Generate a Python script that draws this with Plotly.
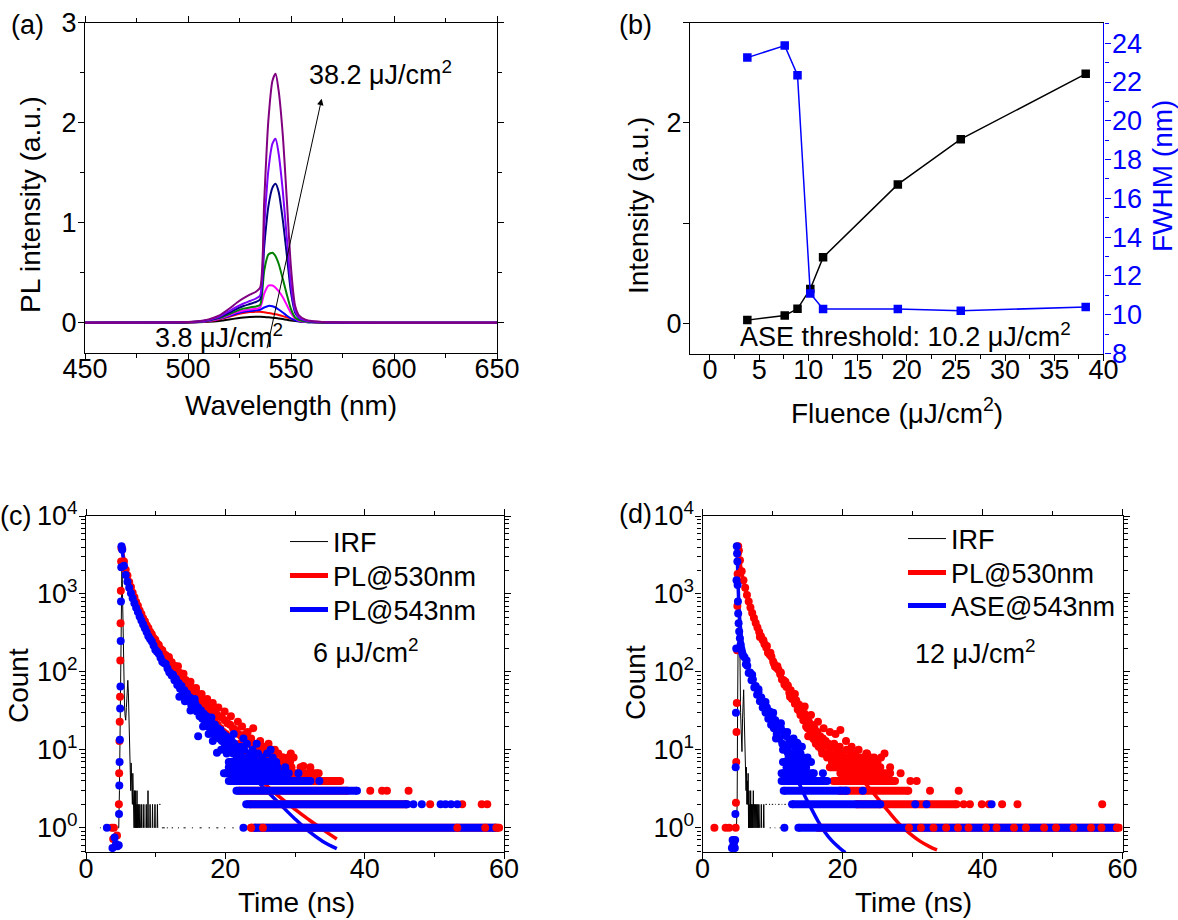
import plotly.graph_objects as go

W, H = 1178, 920
FONT = "Liberation Sans, Arimo, Arial, sans-serif"
TICK = 27
TITLE = 28

# ---------------- (a) PL spectra ----------------
wavelength_nm = [450, 490, 500, 505, 510, 515, 520, 524, 527, 530, 533, 535, 537, 539, 541, 542.5,
                 544, 546, 548, 550, 552, 554, 557, 560, 565, 570, 580, 600, 650]
spectrum_colors = ["#000000", "#FF0000", "#0000FF", "#FF00FF", "#008000", "#000080", "#8000FF", "#800080"]
pl_3_8 = [0, 0.001, 0.002, 0.004, 0.009, 0.018, 0.032, 0.045, 0.053, 0.058, 0.06, 0.059, 0.057, 0.054, 0.05, 0.046,
          0.042, 0.036, 0.029, 0.022, 0.016, 0.011, 0.007, 0.004, 0.002, 0.001, 0, 0, 0]
pl_7_6 = [0, 0.001, 0.003, 0.007, 0.015, 0.032, 0.058, 0.084, 0.098, 0.106, 0.11, 0.109, 0.104, 0.097, 0.09, 0.084,
          0.077, 0.066, 0.053, 0.039, 0.027, 0.018, 0.01, 0.006, 0.003, 0.001, 0, 0, 0]
pl_8_9 = [0, 0.001, 0.004, 0.008, 0.017, 0.036, 0.066, 0.095, 0.11, 0.118, 0.124, 0.13, 0.152, 0.168, 0.164, 0.152,
          0.132, 0.102, 0.07, 0.042, 0.024, 0.014, 0.008, 0.005, 0.003, 0.001, 0, 0, 0]
pl_10_2 = [0, 0.001, 0.004, 0.009, 0.019, 0.04, 0.075, 0.106, 0.122, 0.131, 0.139, 0.152, 0.29, 0.37, 0.372, 0.35,
           0.315, 0.255, 0.175, 0.095, 0.042, 0.02, 0.01, 0.006, 0.003, 0.001, 0, 0, 0]
pl_11_5 = [0, 0.001, 0.005, 0.01, 0.022, 0.046, 0.086, 0.121, 0.141, 0.153, 0.162, 0.178, 0.52, 0.68, 0.70, 0.665,
           0.59, 0.44, 0.28, 0.135, 0.052, 0.025, 0.012, 0.007, 0.003, 0.001, 0, 0, 0]
pl_19_1 = [0, 0.001, 0.005, 0.011, 0.025, 0.052, 0.1, 0.142, 0.167, 0.187, 0.207, 0.232, 0.76, 1.16, 1.35, 1.39,
           1.31, 1.03, 0.67, 0.3, 0.1, 0.045, 0.02, 0.01, 0.005, 0.002, 0, 0, 0]
pl_25_5 = [0, 0.001, 0.006, 0.012, 0.028, 0.058, 0.116, 0.162, 0.192, 0.217, 0.242, 0.272, 0.96, 1.52, 1.79, 1.84,
           1.69, 1.32, 0.84, 0.37, 0.12, 0.05, 0.022, 0.012, 0.006, 0.003, 0, 0, 0]
pl_38_2 = [0, 0.001, 0.007, 0.014, 0.033, 0.07, 0.14, 0.205, 0.245, 0.28, 0.31, 0.35, 1.22, 2.02, 2.42, 2.49,
           2.32, 1.88, 1.22, 0.55, 0.17, 0.07, 0.03, 0.016, 0.008, 0.004, 0.001, 0, 0]
spectra = [pl_3_8, pl_7_6, pl_8_9, pl_10_2, pl_11_5, pl_19_1, pl_25_5, pl_38_2]

# ---------------- (b) intensity & FWHM ----------------
fluence = [3.8, 7.6, 8.9, 10.2, 11.5, 19.1, 25.5, 38.2]
peak_intensity = [0.033, 0.079, 0.146, 0.344, 0.659, 1.387, 1.838, 2.49]
fwhm_nm = [23.26, 23.88, 22.35, 11.09, 10.30, 10.30, 10.20, 10.40]

# ---------------- (c) decays at 6 uJ/cm2 ----------------
c_irf = [(2.0, 1), (2.12, 1), (None, None), (2.6, 1), (2.7, 1), (None, None), (3.3, 1), (3.45, 1), (None, None),
         (4.0, 1), (4.1, 1), (None, None),
         (4.55, 1), (4.7, 1), (4.8, 3), (4.9, 20), (5.0, 300), (5.08, 2000), (5.16, 2600), (5.24, 1000), (5.32, 250),
         (5.42, 75), (5.52, 40), (5.6, 28), (5.7, 24), (5.8, 35), (5.9, 62), (6.0, 78), (6.08, 55), (6.16, 22),
         (6.24, 9), (6.3, 5), (6.36, 7), (6.42, 3), (6.48, 6.8), (6.54, 4), (6.6, 6), (6.66, 2), (6.72, 5), (6.78, 2),
         (6.84, 4), (6.9, 1), (6.96, 3), (7.02, 1), (7.08, 3), (7.14, 1), (7.2, 2), (7.26, 1), (7.32, 3), (7.38, 1),
         (7.44, 2), (7.5, 1), (7.58, 2), (7.66, 1), (7.74, 2), (7.82, 1), (None, None),
         (7.95, 1), (8.0, 2), (8.05, 1), (None, None), (8.25, 1), (8.3, 2), (8.35, 1), (None, None),
         (8.6, 1), (8.65, 2), (8.7, 1), (None, None), (8.85, 1), (8.9, 3), (8.95, 1), (None, None),
         (9.15, 1), (9.2, 2), (9.25, 1), (None, None), (9.5, 1), (9.55, 2), (9.6, 1), (None, None),
         (9.85, 1), (9.9, 2), (9.95, 1), (None, None), (10.2, 1), (10.25, 2), (10.3, 1), (None, None),
         (10.5, 2), (10.7, 2), (None, None), (10.9, 1), (11.3, 1), (None, None), (11.6, 1), (11.75, 1), (None, None),
         (12.3, 1), (12.5, 1), (None, None), (13.2, 1), (13.35, 1), (None, None), (14.0, 1), (14.3, 1), (None, None),
         (15.2, 1), (15.35, 1), (None, None), (16.3, 1), (16.6, 1), (None, None), (17.6, 1), (17.8, 1), (None, None),
         (18.7, 1), (19.0, 1), (None, None), (19.8, 1), (20.0, 1), (None, None), (21.0, 1), (21.2, 1), (None, None),
         (22.1, 1), (22.4, 1)]

c_pl530 = [(3.7, 1), (4.0, 1), (3.9, 0.72), (4.45, 0.8),
           (4.72, 2), (4.76, 5), (4.8, 13), (4.84, 23), (4.88, 48), (4.92, 140), (4.96, 420), (5.0, 1100),
           (5.04, 2600), (5.08, 3900),
           (5.2, 3800), (5.45, 2600), (5.7, 2050), (5.95, 1720), (6.2, 1420), (6.45, 1230), (6.7, 1040), (6.95, 910),
           (7.2, 790), (7.45, 705), (7.7, 615), (7.95, 555), (8.2, 488), (8.45, 445), (8.7, 398), (8.95, 366),
           (9.2, 327), (9.45, 304), (9.7, 272), (9.95, 258), (10.2, 232), (10.45, 221), (10.7, 197), (10.95, 190),
           (11.2, 169), (11.45, 163), (11.7, 146), (11.95, 142),
           (12.1, 129), (12.3, 133), (12.5, 111), (12.7, 120), (12.9, 101), (13.1, 104), (13.3, 88), (13.5, 97),
           (13.7, 80), (13.9, 86), (14.1, 71), (14.3, 79), (14.5, 63), (14.7, 70), (14.9, 60), (15.1, 63),
           (15.3, 52), (15.5, 57), (15.7, 47), (15.9, 54), (16.1, 43), (16.3, 48), (16.5, 37), (16.7, 44),
           (16.9, 35), (17.1, 40), (17.3, 31), (17.5, 37), (17.7, 28), (17.9, 34), (18.1, 25), (18.3, 32),
           (18.5, 23), (18.7, 29), (18.9, 21), (19.1, 27), (19.3, 19), (19.5, 26), (19.7, 17), (19.9, 24),
           (20.1, 16), (20.3, 22), (20.5, 14), (20.7, 21), (20.9, 13), (21.1, 19), (21.3, 12), (21.5, 18),
           (21.7, 11), (21.9, 16),
           (11.9, 155), (13.2, 118), (14.0, 95), (15.0, 75), (15.8, 62), (16.6, 52), (17.4, 45), (18.2, 40),
           (19.0, 35), (19.9, 31), (20.8, 27), (21.8, 23), (22.4, 20), (24.0, 19), (23.2, 17), (25.2, 11),
           (26.5, 9.6), (27.1, 10), (29.4, 9), (31.2, 6.2), (28.3, 8),
           (22.1, 12), (22.3, 15), (22.5, 10), (22.7, 13), (22.9, 16), (23.1, 9), (23.3, 12), (23.5, 8), (23.7, 14),
           (23.9, 11), (24.1, 9), (24.3, 12), (24.6, 8), (24.8, 10), (25.0, 13), (25.3, 7), (25.5, 11), (25.8, 9),
           (26.0, 8), (26.2, 12), (26.5, 7), (26.7, 10), (27.0, 8), (27.3, 7), (27.6, 9), (27.9, 7), (28.2, 8),
           (28.6, 7), (29.0, 8), (29.3, 7), (29.8, 8)]
# quantised count levels: (count, [(start, end) runs], [isolated times])
c_pl530_levels = [(7, [(22.0, 27.5)], [29.1]),
                  (6, [(21.5, 29.5)], [30.8, 32.2]),
                  (5, [(20.5, 33.4)], []),
                  (4, [(21.0, 36.5)], []),
                  (3, [(22.0, 37.5)], [40.8, 42.5, 43.2, 46.3]),
                  (2, [(23.5, 46.0)], [49.4, 54.0, 56.8, 57.6]),
                  (1, [(23.7, 59.3)], [])]
c_pl530_level1_front = [23.7, 25.4, 53.3, 57.3, 58.9]

c_pl543 = [(3.0, 1), (3.8, 0.55), (4.1, 0.75), (4.3, 0.62), (4.5, 0.58),
           (4.7, 0.6), (4.74, 1.5), (4.78, 3.5), (4.82, 7), (4.86, 13.5), (4.9, 34), (4.94, 65), (4.98, 250),
           (5.02, 800), (5.06, 2200), (5.1, 4100),
           (5.2, 3700), (5.45, 2300), (5.7, 1750), (5.95, 1430), (6.2, 1200), (6.45, 1020), (6.7, 880), (6.95, 760),
           (7.2, 665), (7.45, 585), (7.7, 515), (7.95, 455), (8.2, 405), (8.45, 362), (8.7, 325), (8.95, 286),
           (9.2, 265), (9.45, 246), (9.7, 218), (9.95, 192), (10.2, 181), (10.45, 171), (10.7, 152), (10.95, 135),
           (11.2, 130), (11.45, 126), (11.7, 111), (11.95, 99),
           (12.1, 97), (12.3, 90), (12.5, 92), (12.7, 78), (12.9, 82), (13.1, 68), (13.3, 72), (13.5, 61),
           (13.7, 66), (13.9, 54), (14.1, 58), (14.3, 48), (14.5, 53), (14.7, 43), (14.9, 47), (15.1, 38),
           (15.3, 43), (15.5, 34), (15.7, 39), (15.9, 31), (16.1, 35), (16.3, 27), (16.5, 32), (16.7, 25),
           (16.9, 29), (17.1, 22), (17.3, 27), (17.5, 20), (17.7, 24), (17.9, 18), (18.1, 22), (18.3, 16),
           (18.5, 21), (18.7, 15), (18.9, 19), (19.1, 14), (19.3, 18), (19.5, 13), (19.7, 16), (19.9, 12),
           (20.1, 15), (20.3, 11), (20.5, 14), (20.7, 10), (20.9, 13), (21.1, 9), (21.3, 12), (21.5, 9),
           (21.7, 11), (21.9, 8),
           (13.4, 48), (14.2, 42), (15.0, 32), (16.1, 15), (16.8, 20), (17.6, 16), (18.2, 13), (18.8, 9.2),
           (19.4, 10), (20.2, 9), (21.2, 16), (22.6, 14), (26.5, 10), (24.5, 12), (15.6, 45), (18.0, 26),
           (22.1, 9), (22.3, 11), (22.5, 8), (22.7, 10), (22.9, 7), (23.1, 12), (23.3, 8), (23.5, 9), (23.7, 7),
           (23.9, 10), (24.1, 8), (24.4, 7), (24.7, 9), (25.0, 7), (25.3, 8), (25.6, 7), (26.0, 9), (26.4, 7),
           (26.8, 8), (27.3, 7)]
c_pl543_levels = [(7, [(20.5, 26.5)], []),
                  (6, [(20.5, 27.5)], [28.6]),
                  (5, [(19.8, 29.1)], [30.5]),
                  (4, [(20.5, 32.2)], [33.5]),
                  (3, [(21.6, 38.9)], []),
                  (2, [(23.0, 46.1)], [47.0, 48.2, 50.9, 51.6, 52.4, 53.3]),
                  (1, [(24.2, 58.8)], [22.6])]

c_fit530 = [(5.1, 4000), (6, 1700), (7, 880), (8, 520), (9, 340), (10, 240), (12, 120), (14, 65), (16, 37),
            (18, 22), (20, 13.5), (22, 8.3), (24, 5.2), (26, 3.45), (28, 2.4), (30, 1.72), (32, 1.27),
            (34, 0.95), (36, 0.72)]
c_fit543 = [(5.1, 4000), (6, 1450), (7, 730), (8, 430), (9, 280), (10, 195), (12, 98), (14, 52), (16, 30),
            (18, 18), (20, 11), (22, 7.0), (24, 4.5), (26, 2.95), (28, 1.95), (30, 1.3), (32, 0.9),
            (34, 0.67), (36, 0.54)]

# ---------------- (d) decays at 12 uJ/cm2 ----------------
d_irf = [(4.85, 1), (4.95, 2), (5.02, 40), (5.1, 800), (5.18, 2500), (5.26, 900), (5.34, 120), (5.44, 30),
         (5.54, 16.5), (5.64, 9.5), (5.72, 25), (5.8, 55), (5.88, 59), (5.96, 27), (6.04, 10), (6.1, 5), (6.16, 7),
         (6.22, 3), (6.28, 6), (6.34, 2), (6.4, 4), (6.46, 2), (6.52, 5), (6.58, 1), (6.64, 3), (6.7, 1),
         (6.76, 2), (6.82, 1), (6.88, 3), (6.94, 1), (7.0, 2), (7.06, 1), (7.12, 2), (7.18, 1), (7.26, 3),
         (7.34, 1), (7.42, 2), (7.5, 1), (7.58, 2), (7.66, 1), (7.74, 2), (7.82, 1), (7.9, 2), (7.98, 1),
         (8.06, 2), (8.14, 1), (None, None), (8.35, 1), (8.4, 2), (8.45, 1), (None, None),
         (8.7, 1), (8.75, 2), (8.8, 1), (None, None), (9.0, 2), (9.2, 2), (None, None), (9.5, 2), (9.65, 2),
         (None, None), (9.9, 2), (10.1, 2), (None, None), (10.4, 2), (10.5, 2), (None, None), (10.8, 2), (11.0, 2),
         (None, None), (11.3, 2), (11.4, 2), (None, None), (11.7, 2), (11.9, 2), (None, None), (12.2, 2), (12.4, 2),
         (None, None), (9.6, 1), (9.75, 1), (None, None), (10.3, 1), (10.4, 1), (None, None), (11.0, 1), (11.2, 1),
         (None, None), (11.5, 1), (11.7, 1)]

d_pl530 = [(1.7, 1), (3.3, 1), (3.8, 1),
           (4.74, 1.0), (4.78, 2.1), (4.82, 7), (4.86, 17), (4.9, 40), (4.94, 190), (4.98, 700), (5.02, 1800),
           (5.06, 3300), (5.1, 4100),
           (5.2, 3600), (5.35, 2700), (5.6, 1950), (5.85, 1500), (6.1, 1200), (6.35, 970), (6.6, 800), (6.85, 670),
           (7.1, 570), (7.35, 490), (7.6, 425), (7.85, 370), (8.1, 325), (8.35, 288), (8.6, 256), (8.85, 228),
           (9.1, 205), (9.35, 176), (9.6, 166), (9.85, 156), (10.1, 136), (10.35, 117), (10.6, 112), (10.85, 107),
           (11.1, 93), (11.35, 80), (11.6, 78), (11.85, 75),
           (8.2, 280), (8.7, 255), (9.2, 215), (9.7, 176), (10.2, 128), (10.7, 118), (11.2, 98), (11.7, 69),
           (12.0, 64), (12.2, 67), (12.4, 54), (12.6, 58), (12.8, 45), (13.0, 50), (13.2, 39), (13.4, 43),
           (13.6, 33), (13.8, 38), (14.0, 28), (14.2, 33), (14.4, 24), (14.6, 29), (14.8, 20), (14.9, 26),
           (15.0, 19), (15.2, 23), (15.4, 16), (15.6, 21), (15.8, 14), (16.0, 19), (16.2, 12), (16.4, 17),
           (16.6, 11), (16.8, 15), (17.0, 10), (17.2, 14), (17.4, 9), (17.6, 13), (17.8, 8), (18.0, 12),
           (18.2, 9), (18.4, 11), (18.6, 8), (18.8, 12), (19.0, 9), (19.2, 10), (19.4, 8), (19.6, 11), (19.8, 8),
           (20.0, 9), (20.3, 8), (20.6, 10), (20.9, 8), (21.2, 9), (21.5, 8), (21.8, 9), (22.1, 8), (22.5, 8),
           (23.0, 8), (23.5, 9), (24.0, 8), (24.5, 8),
           (13.2, 52), (14.6, 36), (15.5, 28), (16.5, 23), (17.3, 19), (18.2, 17), (19.0, 16), (19.7, 18),
           (20.5, 13), (21.3, 11), (22.3, 10), (23.4, 9), (25.5, 8), (26.0, 9), (12.5, 48), (13.9, 31),
           (15.1, 15), (16.1, 13), (17.1, 9)]
d_pl530_levels = [(7, [(18.5, 25.0)], []),
                  (6, [(18.2, 25.4)], [26.8]),
                  (5, [(19.7, 26.8)], [28.3]),
                  (4, [(18.7, 27.5)], [29.7, 30.6]),
                  (3, [(19.6, 29.4)], [32.5, 36.6]),
                  (2, [(22.0, 36.3)], [37.3, 38.2, 39.9, 40.9, 42.8, 45.0, 57.1]),
                  (1, [(16.5, 59.5)], [])]
d_pl530_level1_front = [29.5, 31.2, 33.0, 34.8, 36.5, 38.0, 40.5, 42.0, 44.5, 46.2, 48.8, 50.5, 53.0, 55.5,
                        57.0, 59.2]

d_ase543 = [(4.2, 0.55), (4.3, 0.7), (4.4, 0.6), (4.5, 0.65),
            (4.62, 0.55), (4.66, 0.7), (4.7, 1.5), (4.74, 6), (4.78, 30), (4.82, 200), (4.86, 1500), (4.9, 4100),
            (4.94, 3300), (4.98, 2600), (5.02, 1300), (5.06, 800), (5.1, 560), (5.16, 420), (5.24, 330),
            (5.34, 270), (5.45, 225), (5.56, 195), (5.68, 175), (5.8, 162),
            (6.0, 154), (6.2, 125), (6.4, 120), (6.6, 97), (6.8, 98), (7.0, 78), (7.2, 80), (7.4, 63), (7.6, 66),
            (7.8, 51), (8.0, 55), (8.2, 42), (8.4, 47), (8.6, 35), (8.8, 40), (9.0, 30), (9.2, 35), (9.4, 25),
            (9.6, 31), (9.8, 21), (10.0, 27), (10.2, 19), (10.4, 24), (10.6, 16), (10.8, 21), (11.0, 14),
            (11.2, 19), (11.4, 12), (11.6, 17), (11.8, 11), (12.0, 15), (12.2, 10), (12.4, 13), (12.6, 9),
            (12.8, 12), (13.0, 8), (13.2, 11), (13.4, 9), (13.6, 10), (13.8, 8), (14.0, 9), (14.3, 8), (14.6, 7),
            (15.0, 8), (15.5, 7),
            (6.3, 140), (7.1, 92), (8.0, 60), (9.0, 41), (9.3, 31), (10.1, 30), (11.2, 22), (12.1, 17), (13.0, 14),
            (13.6, 12), (14.2, 11), (11.1, 21), (11.8, 16.6), (13.5, 12.3), (14.9, 7.1), (10.5, 14), (11.5, 10),
            (12.3, 8), (12.7, 7)]
d_ase543_levels = [(7, [(11.5, 14.2)], []),
                   (6, [(12.0, 14.8)], []),
                   (5, [(11.3, 15.9)], [17.2]),
                   (4, [(11.3, 17.8)], []),
                   (3, [(11.6, 20.6)], [22.9]),
                   (2, [(12.8, 25.4)], [30.4, 32.0, 41.3]),
                   (1, [(13.7, 59.0)], [11.7])]

d_fit530 = [(5.1, 4000), (5.6, 1900), (6.5, 850), (7.5, 440), (8.5, 260), (10, 135), (11.5, 74), (13, 43),
            (14.5, 26), (16, 16.5), (17.5, 11), (19, 8.2), (20.5, 6.4), (22, 5.0), (23.5, 3.5), (25, 2.4),
            (26.5, 1.65), (28, 1.15), (29.5, 0.86), (31, 0.68), (32.5, 0.57), (33.5, 0.52)]
d_fit543 = [(4.95, 4000), (5.1, 1200), (5.3, 500), (5.7, 230), (6.5, 115), (7.5, 62), (8.5, 38), (9.5, 25),
            (10.5, 16), (11.5, 10.5), (12.5, 6.8), (13.5, 4.3), (14.5, 2.7), (15.5, 1.8), (16.5, 1.22),
            (17.5, 0.88), (18.5, 0.68), (19.5, 0.56), (20.4, 0.48)]

RED, BLUE = "#FF0000", "#0000FF"
DOT = 8


def unzip(pairs):
    return [p[0] for p in pairs], [p[1] for p in pairs]


def level_xy(levels):
    xs, ys = [], []
    for n, runs, dots in levels:
        for a, b in runs:
            xs += [a, b, None]
            ys += [n, n, None]
        for d in dots:
            xs += [d, None]
            ys += [n, None]
    return xs, ys


def px(xp):
    return xp / W


def py(yp):
    return 1 - yp / H


fig = go.Figure()

# (a)
for spec, col in zip(spectra, spectrum_colors):
    fig.add_trace(go.Scatter(x=wavelength_nm, y=spec, mode="lines",
                             line=dict(color=col, width=2, shape="spline", smoothing=0.7),
                             xaxis="x", yaxis="y", showlegend=False, hoverinfo="skip"))

# (b)
fig.add_trace(go.Scatter(x=fluence, y=peak_intensity, mode="lines+markers", line=dict(color="black", width=1.5),
                         marker=dict(symbol="square", size=8.5, color="black"), xaxis="x2", yaxis="y2",
                         showlegend=False))
fig.add_trace(go.Scatter(x=fluence, y=fwhm_nm, mode="lines+markers", line=dict(color=BLUE, width=1.5),
                         marker=dict(symbol="square", size=8.5, color=BLUE), xaxis="x2", yaxis="y3",
                         showlegend=False))


def decay_panel(xa, ya, irf, red_pts, red_levels, red_front, blue_pts, blue_levels, fit_r, fit_b, legends, names):
    t, n = unzip(irf)
    fig.add_trace(go.Scatter(x=t, y=n, mode="lines", line=dict(color="black", width=1), connectgaps=False,
                             xaxis=xa, yaxis=ya, showlegend=False))
    for fit, col in ((fit_r, RED), (fit_b, BLUE)):
        t, n = unzip(fit)
        fig.add_trace(go.Scatter(x=t, y=n, mode="lines", line=dict(color=col, width=3.5, shape="spline"),
                                 xaxis=xa, yaxis=ya, showlegend=False))
    for pts, levels, col in ((red_pts, red_levels, RED), (blue_pts, blue_levels, BLUE)):
        lx, ly = level_xy(levels)
        fig.add_trace(go.Scatter(x=lx, y=ly, mode="lines+markers", line=dict(color=col, width=DOT),
                                 marker=dict(size=DOT, color=col), connectgaps=False,
                                 xaxis=xa, yaxis=ya, showlegend=False))
        t, n = unzip(pts)
        fig.add_trace(go.Scatter(x=t, y=n, mode="markers", marker=dict(size=DOT, color=col),
                                 xaxis=xa, yaxis=ya, showlegend=False))
    fig.add_trace(go.Scatter(x=red_front, y=[1] * len(red_front), mode="markers", marker=dict(size=DOT, color=RED),
                             xaxis=xa, yaxis=ya, showlegend=False))
    # legend keys (one legend per entry, so rows can be spaced like the original)
    for name, col, w, lg in zip(names, ["black", RED, BLUE], [1, 5, 5], legends):
        fig.add_trace(go.Scatter(x=[None], y=[None], mode="lines", line=dict(color=col, width=w), name=name,
                                 xaxis=xa, yaxis=ya, legend=lg, showlegend=True))


decay_panel("x3", "y4", c_irf, c_pl530, c_pl530_levels, c_pl530_level1_front, c_pl543, c_pl543_levels,
            c_fit530, c_fit543, ["legend", "legend2", "legend3"], ["IRF", "PL@530nm", "PL@543nm"])
decay_panel("x4", "y5", d_irf, d_pl530, d_pl530_levels, d_pl530_level1_front, d_ase543, d_ase543_levels,
            d_fit530, d_fit543, ["legend4", "legend5", "legend6"], ["IRF", "PL@530nm", "ASE@543nm"])

base_font = dict(family=FONT, size=TICK, color="black")


def axis(domain, rng, color="black", mirror="ticks", standoff=0, **kw):
    d = dict(domain=domain, range=rng, showline=True, linecolor=color, linewidth=1.3, mirror=mirror,
             ticks="outside", ticklen=6, tickwidth=1.3, tickcolor=color, showgrid=False, zeroline=False,
             tickfont=dict(family=FONT, size=TICK, color=color), automargin=False,
             ticklabelstandoff=standoff)
    d.update(kw)
    return d


minor_log = [m * 10 ** k for k in range(-1, 4) for m in range(2, 10)]
log_ticks = [1, 10, 100, 1000, 10000]
log_text = ["10<sup>0</sup>", "10<sup>1</sup>", "10<sup>2</sup>", "10<sup>3</sup>", "10<sup>4</sup>"]

a_x = [px(85), px(497)]
a_y = [py(352.7), py(22.7)]
b_x = [px(690), px(1103.4)]
b_y = [py(353.5), py(22.7)]
c_x = [px(86), px(504)]
d_x = [px(702.5), px(1122.5)]
cd_y = [py(852), py(516)]
XS = -14
YS = -4


def mnr(vals, color="black"):
    return dict(tickvals=vals, ticks="outside", ticklen=4, tickcolor=color)


def legend_at(x, y):
    return dict(x=px(x), y=py(y), xanchor="left", yanchor="middle", bgcolor="rgba(0,0,0,0)",
                font=dict(family=FONT, size=TICK, color="black"), itemwidth=38)


fig.update_layout(
    width=W, height=H, margin=dict(l=0, r=0, t=0, b=0), autosize=False,
    paper_bgcolor="white", plot_bgcolor="white", font=base_font,
    xaxis=axis(a_x, [450, 650], anchor="y", standoff=XS, tickvals=[450, 500, 550, 600, 650],
               minor=mnr([475, 525, 575, 625])),
    yaxis=axis(a_y, [-0.3, 3], anchor="x", standoff=YS, tickvals=[0, 1, 2, 3], minor=mnr([0.5, 1.5, 2.5])),
    xaxis2=axis(b_x, [-2.03, 40], anchor="y2", mirror=True, standoff=XS, tickvals=[0, 5, 10, 15, 20, 25, 30, 35, 40],
                minor=mnr([2.5, 7.5, 12.5, 17.5, 22.5, 27.5, 32.5, 37.5])),
    yaxis2=axis(b_y, [-0.3, 3], anchor="x2", mirror=False, standoff=YS, tickvals=[0, 1, 2, 3],
                ticktext=["0", "", "2", ""]),
    yaxis3=axis(b_y, [8, 25.06], color=BLUE, anchor="x2", overlaying="y2", side="right", mirror=False,
                standoff=YS, tickvals=[8, 10, 12, 14, 16, 18, 20, 22, 24],
                minor=mnr([9, 11, 13, 15, 17, 19, 21, 23, 25], BLUE)),
    xaxis3=axis(c_x, [0, 60], anchor="y4", standoff=XS, tickvals=[0, 20, 40, 60], minor=mnr([10, 30, 50])),
    yaxis4=axis(cd_y, [-0.31, 4], anchor="x3", type="log", standoff=YS, tickvals=log_ticks, ticktext=log_text,
                minor=mnr(minor_log)),
    xaxis4=axis(d_x, [0, 60], anchor="y5", standoff=XS, tickvals=[0, 20, 40, 60], minor=mnr([10, 30, 50])),
    yaxis5=axis(cd_y, [-0.31, 4], anchor="x4", type="log", standoff=YS, tickvals=log_ticks, ticktext=log_text,
                minor=mnr(minor_log)),
    legend=legend_at(285, 542),
    legend2=legend_at(285, 576),
    legend3=legend_at(285, 610),
    legend4=legend_at(903, 539),
    legend5=legend_at(903, 573),
    legend6=legend_at(903, 606),
    showlegend=True,
)

anns = []


def ann(text, x, y, size=TICK, color="black", angle=0):
    anns.append(dict(text=text, x=px(x), y=py(y), xref="paper", yref="paper", xanchor="center",
                     yanchor="middle", showarrow=False, textangle=angle,
                     font=dict(family=FONT, size=size, color=color)))


ann("(a)", 27, 25)
ann("(b)", 635, 25)
ann("(c)", 15, 516)
ann("(d)", 635, 514)
ann("PL intensity (a.u.)", 30, 205, TITLE, angle=-90)
ann("Wavelength (nm)", 291, 405, TITLE)
ann("Intensity (a.u.)", 638, 206, TITLE, angle=-90)
ann("FWHM (nm)", 1162, 176, TITLE, BLUE, angle=-90)
ann("Fluence (\u03bcJ/cm<sup>2</sup>)", 897, 411, TITLE)
ann("Count", 18, 686, TITLE, angle=-90)
ann("Time (ns)", 296, 902, TITLE)
ann("Count", 635, 683, TITLE, angle=-90)
ann("Time (ns)", 913, 902, TITLE)
ann("38.2 \u03bcJ/cm<sup>2</sup>", 380, 73)
ann("3.8 \u03bcJ/cm<sup>2</sup>", 219, 336)
ann("ASE threshold: 10.2 \u03bcJ/cm<sup>2</sup>", 905, 335)
ann("6 \u03bcJ/cm<sup>2</sup>", 366, 651)
ann("12 \u03bcJ/cm<sup>2</sup>", 975, 652)

anns.append(dict(x=564.9, y=2.24, ax=538.2, ay=-0.27, xref="x", yref="y", axref="x", ayref="y", text="",
                 showarrow=True, arrowhead=2, arrowsize=1.3, arrowwidth=1, arrowcolor="black"))

fig.update_layout(annotations=anns)
fig.write_html("out.html", config={"displayModeBar": False},
               post_script="document.body.style.margin='0px';document.body.style.overflow='hidden';")
